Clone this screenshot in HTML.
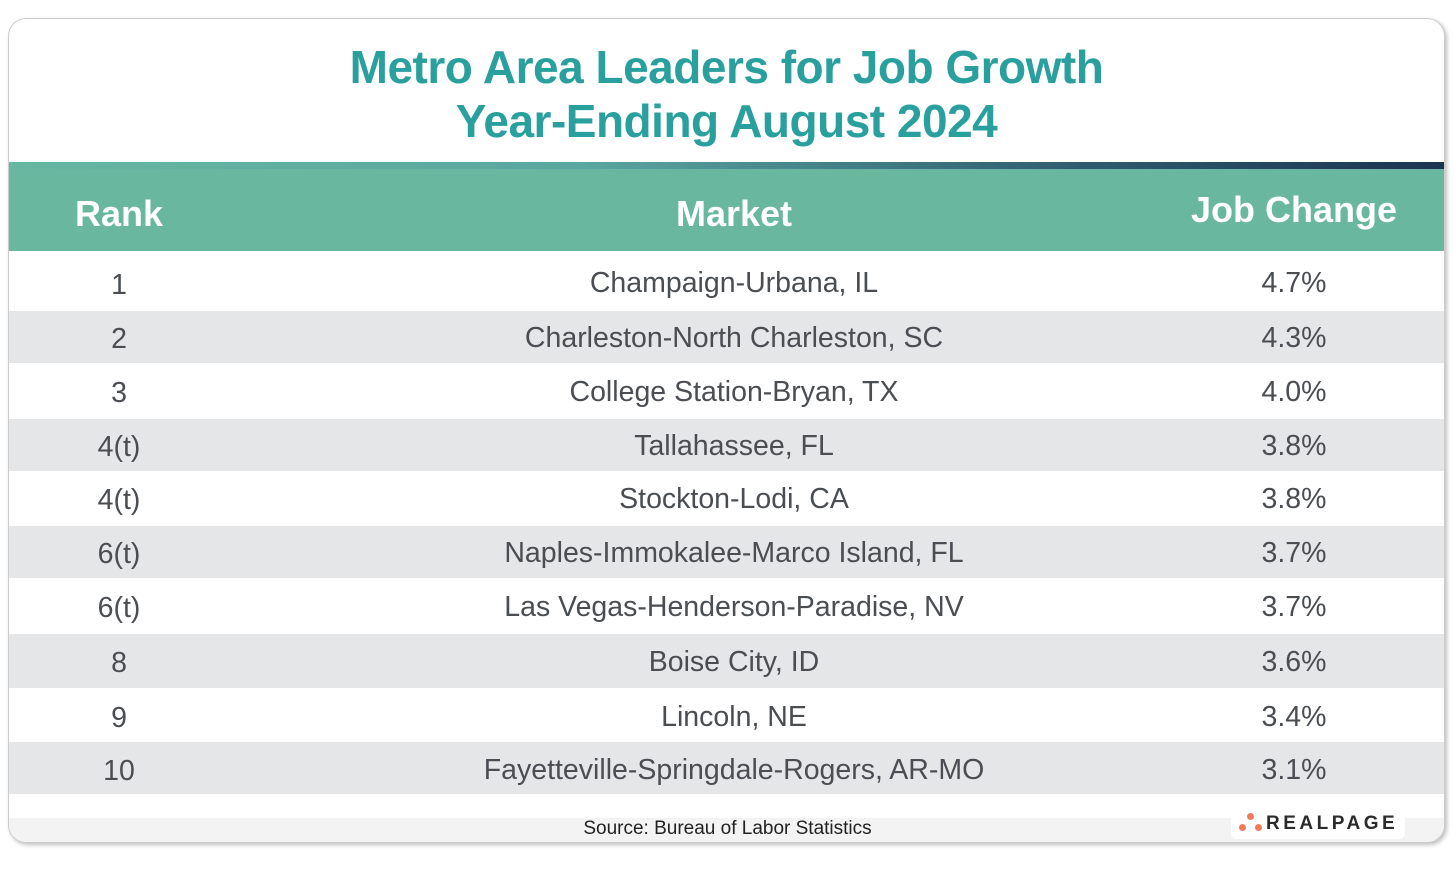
<!DOCTYPE html>
<html><head><meta charset="utf-8"><style>
*{margin:0;padding:0;box-sizing:border-box}
body{width:1455px;height:875px;background:#fff;position:relative;overflow:hidden;font-family:"Liberation Sans",sans-serif}
.card{position:absolute;left:8px;top:18px;width:1437px;height:825px;border:1px solid #ccc;border-radius:18px;box-shadow:2px 2px 4px rgba(0,0,0,.25);overflow:hidden;background:#fff}
.title{position:absolute;left:0;width:100%;text-align:center;color:#2aa09e;font-weight:bold;font-size:46px;letter-spacing:-0.5px}
.strip{position:absolute;left:0;top:143px;width:100%;height:8px;background:linear-gradient(90deg,#66b8a0,#5aa6a0 40%,#2e5c6e 75%,#1b3450)}
.head{position:absolute;left:0;top:150px;width:100%;height:82px;background:#68b79e;color:#fff;font-weight:bold;font-size:36px}
.head div,.row div{position:absolute;text-align:center}
.row{position:absolute;left:0;width:100%;color:#4a4e52;font-size:28.5px}
.row div{margin-top:1px}
.g{background:#e5e6e8}
.c1{left:40px;width:140px}.c2{left:300px;width:850px}.c3{left:1180px;width:210px}
</style></head><body>
<div class="card">
<div class="title" style="top:21px">Metro Area Leaders for Job Growth</div>
<div class="title" style="top:75px">Year-Ending August 2024</div>
<div class="strip"></div>
<div class="head"><div class="c1" style="top:24px">Rank</div><div class="c2" style="top:24px">Market</div><div class="c3" style="top:20px;left:1170px;width:230px">Job Change</div></div>

<div class="row" style="top:232px;height:60px"><div class="c1" style="top:17px">1</div><div class="c2" style="top:15px">Champaign-Urbana, IL</div><div class="c3" style="top:15px">4.7%</div></div>
<div class="row g" style="top:292px;height:52px"><div class="c1" style="top:11px">2</div><div class="c2" style="top:10px">Charleston-North Charleston, SC</div><div class="c3" style="top:10px">4.3%</div></div>
<div class="row" style="top:344px;height:56px"><div class="c1" style="top:13px">3</div><div class="c2" style="top:12px">College Station-Bryan, TX</div><div class="c3" style="top:12px">4.0%</div></div>
<div class="row g" style="top:400px;height:52px"><div class="c1" style="top:11px">4(t)</div><div class="c2" style="top:10px">Tallahassee, FL</div><div class="c3" style="top:10px">3.8%</div></div>
<div class="row" style="top:452px;height:55px"><div class="c1" style="top:12px">4(t)</div><div class="c2" style="top:11px">Stockton-Lodi, CA</div><div class="c3" style="top:11px">3.8%</div></div>
<div class="row g" style="top:507px;height:52px"><div class="c1" style="top:11px">6(t)</div><div class="c2" style="top:10px">Naples-Immokalee-Marco Island, FL</div><div class="c3" style="top:10px">3.7%</div></div>
<div class="row" style="top:559px;height:56px"><div class="c1" style="top:13px">6(t)</div><div class="c2" style="top:12px">Las Vegas-Henderson-Paradise, NV</div><div class="c3" style="top:12px">3.7%</div></div>
<div class="row g" style="top:615px;height:54px"><div class="c1" style="top:12px">8</div><div class="c2" style="top:11px">Boise City, ID</div><div class="c3" style="top:11px">3.6%</div></div>
<div class="row" style="top:669px;height:54px"><div class="c1" style="top:13px">9</div><div class="c2" style="top:12px">Lincoln, NE</div><div class="c3" style="top:12px">3.4%</div></div>
<div class="row g" style="top:723px;height:52px"><div class="c1" style="top:12px">10</div><div class="c2" style="top:11px">Fayetteville-Springdale-Rogers, AR-MO</div><div class="c3" style="top:11px">3.1%</div></div>

<div style="position:absolute;left:0;top:799px;width:100%;height:26px;background:#f3f3f4"></div>
<div style="position:absolute;left:0;top:799px;width:1437px;text-align:center;font-size:19px;color:#222">Source: Bureau of Labor Statistics</div>
<div style="position:absolute;left:1222px;top:788px;width:174px;height:32px;background:#fff;border-radius:6px"></div>
<div style="position:absolute;left:1230px;top:805px;width:7px;height:7px;border-radius:50%;background:#f07a5a"></div>
<div style="position:absolute;left:1238px;top:794px;width:7px;height:7px;border-radius:50%;background:#f07a5a"></div>
<div style="position:absolute;left:1246px;top:805px;width:7px;height:7px;border-radius:50%;background:#f07a5a"></div>
<div style="position:absolute;left:1257px;top:794px;font-size:19px;font-weight:bold;letter-spacing:3.5px;color:#2b2b2b">REALPAGE</div>
</div>
</body></html>
